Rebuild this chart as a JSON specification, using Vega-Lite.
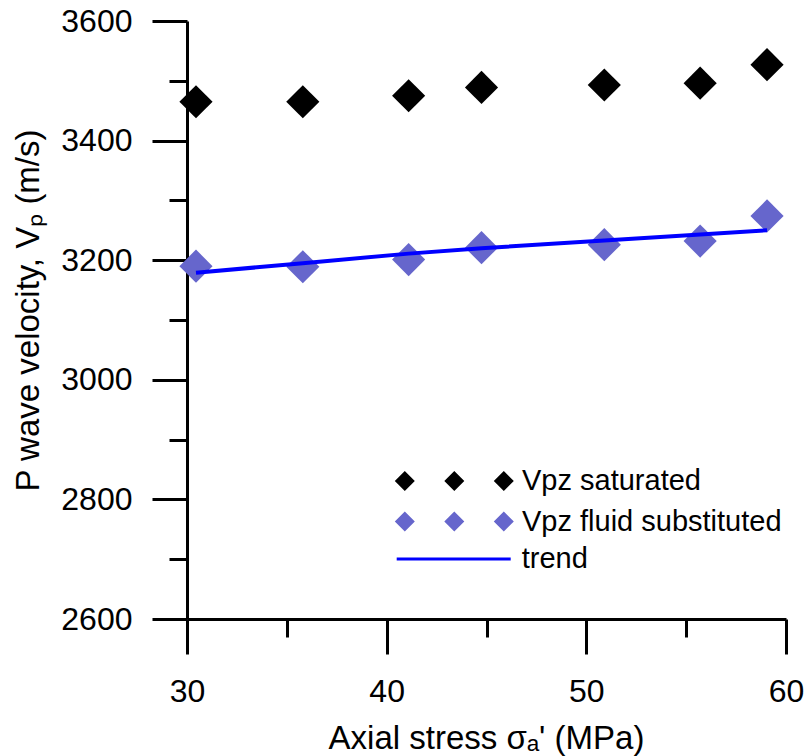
{
  "$schema": "https://vega.github.io/schema/vega-lite/v6.json",
  "width": 599,
  "height": 598,
  "autosize": {"type": "none"},
  "padding": {"left": 187, "top": 21, "right": 21, "bottom": 137},
  "background": "white",
  "config": {
    "view": {"stroke": null},
    "font": "Liberation Sans",
    "axis": {
      "grid": false,
      "domainColor": "black",
      "domainWidth": 3,
      "tickColor": "black",
      "tickWidth": 3,
      "labelColor": "black",
      "labelFont": "Liberation Sans",
      "labelFontSize": 32,
      "labelFlush": false,
      "labelOverlap": false,
      "titleColor": "black",
      "titleFont": "Liberation Sans",
      "titleFontSize": 33,
      "titleFontWeight": "normal"
    },
    "legend": {
      "labelFont": "Liberation Sans",
      "labelFontSize": 29,
      "labelColor": "black",
      "labelLimit": 500,
      "padding": 0,
      "rowPadding": 10.5,
      "symbolSize": 400,
      "symbolOpacity": 1
    }
  },
  "datasets": {
    "points": [
      {"stress": 30.45, "vp": 3465, "series": "Vpz saturated"},
      {"stress": 35.8, "vp": 3465, "series": "Vpz saturated"},
      {"stress": 41.1, "vp": 3475, "series": "Vpz saturated"},
      {"stress": 44.75, "vp": 3489, "series": "Vpz saturated"},
      {"stress": 50.9, "vp": 3493, "series": "Vpz saturated"},
      {"stress": 55.7, "vp": 3496, "series": "Vpz saturated"},
      {"stress": 59.05, "vp": 3527, "series": "Vpz saturated"},
      {"stress": 30.45, "vp": 3190, "series": "Vpz fluid substituted"},
      {"stress": 35.8, "vp": 3189, "series": "Vpz fluid substituted"},
      {"stress": 41.1, "vp": 3201, "series": "Vpz fluid substituted"},
      {"stress": 44.75, "vp": 3221, "series": "Vpz fluid substituted"},
      {"stress": 50.9, "vp": 3226, "series": "Vpz fluid substituted"},
      {"stress": 55.7, "vp": 3232, "series": "Vpz fluid substituted"},
      {"stress": 59.05, "vp": 3274, "series": "Vpz fluid substituted"}
    ],
    "trend": [
      {"stress": 30.45, "vp": 3179, "series": "trend"},
      {"stress": 35.8, "vp": 3195, "series": "trend"},
      {"stress": 41.1, "vp": 3211, "series": "trend"},
      {"stress": 44.75, "vp": 3220, "series": "trend"},
      {"stress": 50.9, "vp": 3233, "series": "trend"},
      {"stress": 55.7, "vp": 3243, "series": "trend"},
      {"stress": 59.05, "vp": 3250, "series": "trend"}
    ]
  },
  "layer": [
    {
      "data": {"name": "points"},
      "mark": {"type": "point", "filled": true, "shape": "diamond", "size": 1100, "opacity": 1},
      "encoding": {
        "x": {
          "field": "stress", "type": "quantitative",
          "scale": {"domain": [30, 60], "nice": false, "zero": false},
          "axis": {
            "orient": "bottom",
            "values": [30, 40, 50, 60],
            "format": "d",
            "tickSize": 35,
            "labelPadding": 22,
            "title": "Axial stress σₐ' (MPa)",
            "titleX": 299,
            "titleY": 129,
            "titleBaseline": "alphabetic",
            "titleAnchor": "middle",
            "titleAlign": "center"
          }
        },
        "y": {
          "field": "vp", "type": "quantitative",
          "scale": {"domain": [2600, 3600], "nice": false, "zero": false},
          "axis": {
            "orient": "left",
            "values": [2600, 2800, 3000, 3200, 3400, 3600],
            "format": "d",
            "tickSize": 35,
            "labelPadding": 20,
            "title": "P wave velocity, Vₚ (m/s)",
            "titleX": -149,
            "titleY": 289,
            "titleAngle": -90,
            "titleBaseline": "alphabetic",
            "titleAlign": "center"
          }
        },
        "color": {
          "field": "series", "type": "nominal",
          "scale": {
            "domain": ["Vpz saturated", "Vpz fluid substituted"],
            "range": ["#000000", "#6666cc"]
          },
          "legend": {
            "orient": "none",
            "legendX": 252.8,
            "legendY": 445.5,
            "title": null,
            "symbolType": "M-5.95,0L-4.95,-1L-3.95,0L-4.95,1Z M-1,0L0,-1L1,0L0,1Z M3.95,0L4.95,-1L5.95,0L4.95,1Z",
            "symbolStrokeWidth": 0,
            "labelOffset": 53.2
          }
        }
      }
    },
    {
      "data": {"name": "trend"},
      "mark": {"type": "line", "strokeWidth": 4},
      "encoding": {
        "x": {
          "field": "stress", "type": "quantitative",
          "axis": {
            "orient": "bottom",
            "values": [35, 45, 55],
            "tickSize": 18,
            "labels": false,
            "domain": false,
            "title": null
          }
        },
        "y": {
          "field": "vp", "type": "quantitative",
          "axis": {
            "orient": "left",
            "values": [2700, 2900, 3100, 3300, 3500],
            "tickSize": 18,
            "labels": false,
            "domain": false,
            "title": null
          }
        },
        "stroke": {
          "field": "series", "type": "nominal",
          "scale": {"domain": ["trend"], "range": ["#0000ff"]},
          "legend": {
            "orient": "none",
            "legendX": 252.2,
            "legendY": 523.5,
            "title": null,
            "symbolType": "M-5.7,0L5.7,0",
            "symbolStrokeWidth": 3,
            "labelOffset": 53.5
          }
        }
      }
    }
  ],
  "resolve": {"axis": {"x": "independent", "y": "independent"}}
}
